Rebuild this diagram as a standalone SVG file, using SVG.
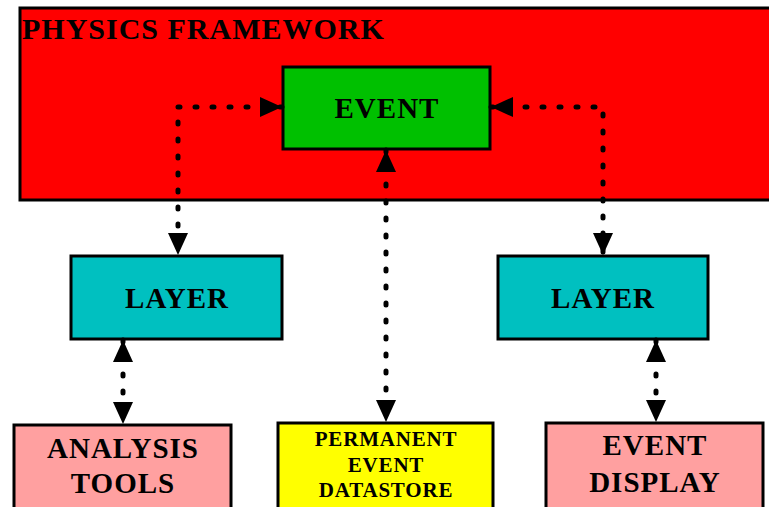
<svg xmlns="http://www.w3.org/2000/svg" width="769" height="507" viewBox="0 0 769 507">
<style>
  .box { stroke: #000; stroke-width: 3; }
  .lbl { font-family: "Liberation Serif", "Times New Roman", serif; font-weight: bold; fill: #000; text-anchor: middle; font-size: 29px; letter-spacing: 1px; }
  .small { font-size: 21px; letter-spacing: 0.8px; }
  .conn { fill: none; stroke: #000; stroke-width: 5; stroke-linecap: round; stroke-dasharray: 2 15; marker-start: url(#ah); marker-end: url(#ah); }
</style>
<defs>
  <marker id="ah" markerUnits="userSpaceOnUse" markerWidth="22" markerHeight="20" refX="22" refY="10" orient="auto-start-reverse" viewBox="0 0 22 20">
    <path d="M0,0 L22,10 L0,20 Z" fill="#000"/>
  </marker>
</defs>
<rect width="769" height="507" fill="#fff"/>
<g id="framework">
  <rect class="box" x="20" y="8" width="760" height="192" fill="#ff0000"/>
  <text class="lbl" x="22" y="39" style="text-anchor:start;font-size:30px">PHYSICS FRAMEWORK</text>
</g>
<g id="event">
  <rect class="box" x="283" y="67" width="207" height="82" fill="#00c000"/>
  <text class="lbl" x="387" y="118">EVENT</text>
</g>
<g id="layer-left">
  <rect class="box" x="71" y="256" width="211" height="83" fill="#00c0c0"/>
  <text class="lbl" x="177" y="308">LAYER</text>
</g>
<g id="layer-right">
  <rect class="box" x="498" y="256" width="210" height="83" fill="#00c0c0"/>
  <text class="lbl" x="603" y="308">LAYER</text>
</g>
<g id="analysis">
  <rect class="box" x="14" y="425" width="217" height="100" fill="#ffa0a0"/>
  <text class="lbl" x="123" y="458">ANALYSIS</text>
  <text class="lbl" x="123" y="493">TOOLS</text>
</g>
<g id="datastore">
  <rect class="box" x="278" y="423" width="215" height="100" fill="#ffff00"/>
  <text class="lbl small" x="386" y="446">PERMANENT</text>
  <text class="lbl small" x="386" y="472">EVENT</text>
  <text class="lbl small" x="386" y="497">DATASTORE</text>
</g>
<g id="display">
  <rect class="box" x="546" y="423" width="217" height="100" fill="#ffa0a0"/>
  <text class="lbl" x="655" y="455">EVENT</text>
  <text class="lbl" x="655" y="492">DISPLAY</text>
</g>
<g id="connectors">
  <path class="conn" d="M282,107 H178 V255"/>
  <path class="conn" d="M491,107 H603 V255"/>
  <path class="conn" d="M386,150 V422"/>
  <path class="conn" d="M123,340 V424"/>
  <path class="conn" d="M656,340 V422"/>
</g>
</svg>
